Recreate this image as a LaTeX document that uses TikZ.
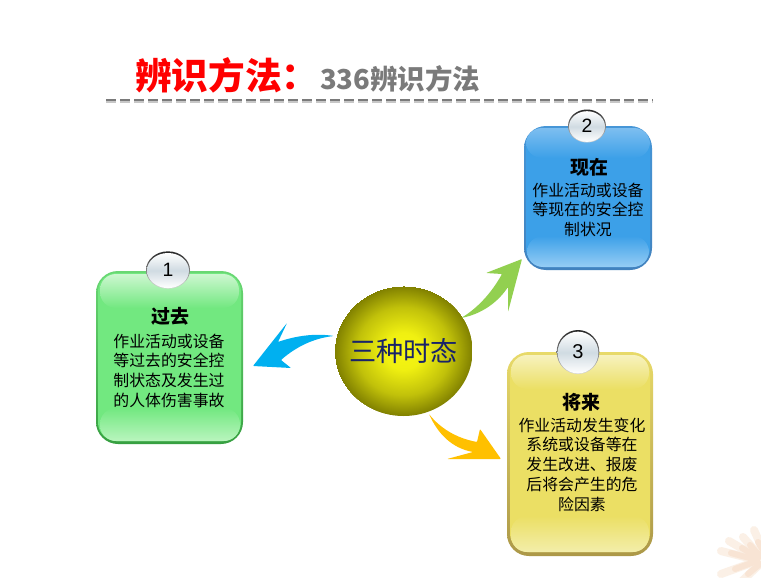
\documentclass[tikz,border=0pt]{standalone}
\usepackage{fontspec}
\setmainfont{Liberation Sans}
\newfontfamily\cjk{Noto Sans CJK SC}
\usetikzlibrary{shapes.geometric}
\definecolor{ballout}{RGB}{128,128,0}
\definecolor{ballin}{RGB}{246,246,18}
\definecolor{rayout}{RGB}{251,240,230}
\definecolor{rayin}{RGB}{248,228,212}
\definecolor{blueB}{RGB}{60,160,232}
\definecolor{greenB}{RGB}{114,232,128}
\definecolor{yellowB}{RGB}{235,223,100}
\pgfdeclareradialshading{ballshade}{\pgfpoint{0bp}{0bp}}{
  color(0bp)=(ballin); color(7bp)=(ballin!95!ballout); color(17bp)=(ballin!55!ballout); color(25bp)=(ballout)}
\tikzset{
  x=0.75pt,y=-0.75pt,
  panel/.style={rounded corners=16.5pt,draw=none,inner sep=0pt,outer sep=0pt,anchor=north west},
  gloss/.style={rounded corners=12pt},
  knobrim/.style={ellipse,draw=none,inner sep=0pt,outer sep=0pt,top color=black!85,bottom color=black!15},
  knobface/.style={ellipse,draw=none,inner sep=0pt,outer sep=0pt,top color=white,bottom color=white,middle color={rgb,255:red,208;green,219;blue,226}},
  head/.style={font=\cjk\bfseries\fontsize{14.2pt}{15pt}\selectfont,text=black},
  body/.style={font=\cjk\fontsize{11.9pt}{14.8pt}\selectfont,align=center,text=black},
  ray/.style={line width=6pt,line cap=round},
}
\begin{document}
\begin{tikzpicture}
\useasboundingbox (0,0) rectangle (761,578);
\fill[white] (0,0) rectangle (761,578);
% sunburst
\begin{scope}
\clip (0,0) rectangle (761,578);
\foreach \xa/\ya/\xb/\yb in {721/551/757/560, 729/541/758/558, 743/537/760/556, 754/530/764/552, 721/574/757/561, 741/582/760/564}
  \draw[ray,rayout] (\xa,\ya) -- (\xb,\yb);
\foreach \xa/\ya/\xb/\yb in {731/553/757/560, 742/548/758/558, 750/545/760/556, 758/542/764/552, 735/569/757/561, 748/574/760/564}
  \draw[ray,line width=4.5pt,rayin] (\xa,\ya) -- (\xb,\yb);
\end{scope}
% title
\node[anchor=west,inner sep=0pt,text=red,font=\cjk\bfseries\fontsize{27.5pt}{30pt}\selectfont] (title) at (135,75) {辨识方法：};
\node[anchor=west,inner sep=0pt,text=black!52,font=\cjk\bfseries\fontsize{20.6pt}{22pt}\selectfont] (subtitle) at (320,79) {336辨识方法};
\coordinate (ruleA) at (106,100);
\coordinate (ruleB) at (653,100);
\draw[black!22,line width=1.5pt,dash pattern=on 7.5pt off 3pt] ([yshift=-1.4pt]ruleA) -- ([yshift=-1.4pt]ruleB);
\draw[black!52,line width=2.2pt,dash pattern=on 7.5pt off 3pt] (ruleA) -- (ruleB);
% blue panel
\node[panel,top color={rgb,255:red,70;green,150;blue,215},bottom color={rgb,255:red,66;green,130;blue,190},minimum width=96pt,minimum height=108pt] (now) at (524,126) {};
\fill[gloss,rounded corners=14pt,blueB] (526,128) rectangle (650,267);
\shade[gloss,top color={rgb,255:red,125;green,190;blue,240},bottom color=blueB] (526,128) rectangle (650,158);
\shade[gloss,top color=blueB,bottom color={rgb,255:red,150;green,205;blue,245}] (527,236) rectangle (649,267);
% green panel
\node[panel,top color={rgb,255:red,105;green,215;blue,115},bottom color={rgb,255:red,55;green,160;blue,65},minimum width=110.25pt,minimum height=129.75pt] (past) at (96,271) {};
\fill[gloss,rounded corners=14pt,greenB] (98,273) rectangle (241,441);
\shade[gloss,top color={rgb,255:red,205;green,247;blue,208},bottom color=greenB] (100,274) rectangle (239,308);
\shade[gloss,top color=greenB,bottom color={rgb,255:red,185;green,245;blue,190}] (100,408) rectangle (240,441);
% yellow panel
\node[panel,top color={rgb,255:red,232;green,218;blue,105},bottom color={rgb,255:red,172;green,152;blue,72},minimum width=109.5pt,minimum height=153pt] (future) at (507,352) {};
\fill[gloss,rounded corners=14pt,yellowB] (510,355) rectangle (650,552);
\shade[gloss,top color={rgb,255:red,247;green,242;blue,190},bottom color=yellowB] (511,355) rectangle (649,389);
\shade[gloss,top color=yellowB,bottom color={rgb,255:red,243;green,238;blue,170}] (511,516) rectangle (649,552);
% badges
\node[knobrim,minimum width=28.5pt,minimum height=24.75pt] (b2) at (587,126) {};
\node[knobface,minimum width=27pt,minimum height=23pt] at ([yshift=-0.4pt]b2.center) {};
\node[knobrim,minimum width=33pt,minimum height=28pt] (b1) at (168,270) {};
\node[knobface,minimum width=31.5pt,minimum height=26.3pt] at ([yshift=-0.4pt]b1.center) {};
\node[knobrim,minimum width=32pt,minimum height=33pt] (b3) at (578,352) {};
\node[knobface,minimum width=30.5pt,minimum height=31.3pt] at ([yshift=-0.4pt]b3.center) {};
\node[font=\fontsize{14.5pt}{15pt}\selectfont] at (b2) {2};
\node[font=\fontsize{14.5pt}{15pt}\selectfont] at (b1) {1};
\node[font=\fontsize{15pt}{16pt}\selectfont] at (b3) {3};
% texts
\node[head] (hNow) at (589,167.5) {现在};
\node[body,anchor=north] (tNow) at (588,178) {作业活动或设备\\等现在的安全控\\制状况};
\node[head] (hPast) at (170,316.5) {过去};
\node[body,anchor=north] (tPast) at (169,329) {作业活动或设备\\等过去的安全控\\制状态及发生过\\的人体伤害事故};
\node[head] (hFuture) at (581,402.5) {将来};
\node[body,anchor=north] (tFuture) at (582,413) {作业活动发生变化\\系统或设备等在\\发生改进、报废\\后将会产生的危\\险因素};
% ball
\node[ellipse,inner sep=0pt,outer sep=0pt,minimum width=103.5pt,minimum height=97.5pt,shading=ballshade] (ball) at (403.5,351) {};
\node[font=\cjk\fontsize{20.4pt}{22pt}\selectfont,text={rgb,255:red,25;green,35;blue,105}] at (ball) {三种时态};
% arrows
\coordinate (aBlue) at (253,366);
\coordinate (aGreen) at (522,259);
\coordinate (aGold) at (501,459);
\fill[fill={rgb,255:red,0;green,176;blue,240},rounded corners=0.6pt] (aBlue) -- (287,323) -- (278,342) .. controls (295,336) and (315,333) .. (334,336) .. controls (315,338) and (297,346) .. (281,360) -- (291,368) -- cycle;
\fill[fill={rgb,255:red,146;green,208;blue,80},rounded corners=0.6pt] (aGreen) -- (486,273) -- (502,274) .. controls (492,292) and (478,308) .. (461,318) .. controls (482,314) and (498,302) .. (508,287) -- (508,312) -- cycle;
\fill[fill={rgb,255:red,255;green,192;blue,0},rounded corners=0.6pt] (aGold) -- (480,429) -- (477,442) .. controls (456,438) and (440,428) .. (429,414) .. controls (438,434) and (452,448) .. (473,452) -- (447,459) -- cycle;
\end{tikzpicture}
\end{document}
